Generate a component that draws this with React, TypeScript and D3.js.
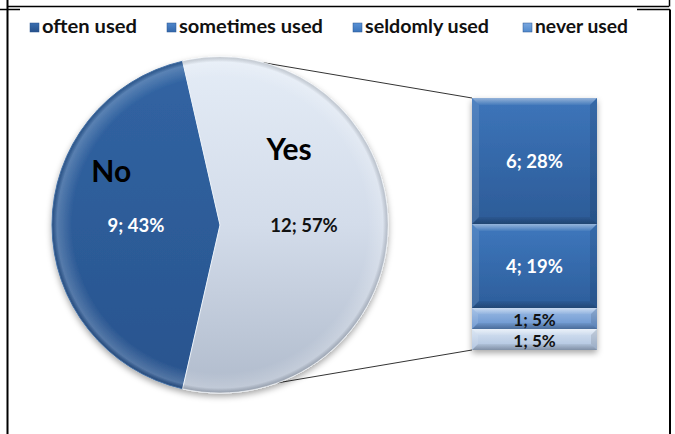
import React from "react";
import * as d3 from "d3";

const pieCategories = ["No", "Yes"];
const pieValues = [9, 12];
const piePercents = [43, 57];

const barCategories = ["often used", "sometimes used", "seldomly used", "never used"];
const barValues = [6, 4, 1, 1];
const barPercents = [28, 19, 5, 5];

const W = 675;
const H = 434;
const FONT = "Lato, 'Open Sans', 'DejaVu Sans', sans-serif";

const barGrad = [
  ["#3d75ba", "#2c5b97"],
  ["#3e77bd", "#2d5e9b"],
  ["#9dbce4", "#6390cd"],
  ["#d8e4f3", "#abc0dd"],
];
const legendGrad = [
  ["#3b6fb0", "#26508a"],
  ["#4f86cb", "#3468ab"],
  ["#5a92d6", "#3a73ba"],
  ["#7aa8e0", "#5189cc"],
];
const legendTextLen = [95, 144, 124, 93];
const legendX = [30, 167, 353, 523];

export default function App() {
  const cx = 220, cy = 225, r = 168;
  const total = d3.sum(pieValues);
  const noSpan = (pieValues[0] / total) * 2 * Math.PI;
  const start = 1.5 * Math.PI - noSpan / 2;
  const pie = d3.pie<number>().sort(null).startAngle(start).endAngle(start + 2 * Math.PI);
  const arcs = pie(pieValues);
  const arc = d3.arc<d3.PieArcDatum<number>>().innerRadius(0).outerRadius(r);

  // bar of pie
  const barX = 472, barW = 125, barTop = 98, barBottom = 350;
  const barTotal = d3.sum(barValues);
  const y = d3.scaleLinear().domain([0, barTotal]).range([barTop, barBottom]);
  let acc = 0;
  const segs = barValues.map((v, i) => {
    const s = { i, v, y0: y(acc), y1: y(acc + v) };
    acc += v;
    return s;
  });

  const pt = (deg: number) => {
    const a = (deg * Math.PI) / 180;
    return [cx + r * Math.sin(a), cy - r * Math.cos(a)];
  };
  const cTop = pt(15);
  const cBot = pt(160);

  const polar = (deg: number, rad: number) => {
    const a = (deg * Math.PI) / 180;
    return [cx + rad * Math.sin(a), cy - rad * Math.cos(a)];
  };
  const catPos = [polar(296, 121), polar(42.6, 102)];

  return (
    <svg width={W} height={H} style={{ position: "absolute", left: 0, top: 0, background: "#fff" }}>
      <defs>
        <linearGradient id="gYes" x1="0" y1="0" x2="0" y2="1">
          <stop offset="0" stopColor="#e4ecf6" />
          <stop offset="0.5" stopColor="#d3dcea" />
          <stop offset="1" stopColor="#b0bbcc" />
        </linearGradient>
        <linearGradient id="gNo" x1="0" y1="0" x2="0" y2="1">
          <stop offset="0" stopColor="#3164a3" />
          <stop offset="1" stopColor="#29548e" />
        </linearGradient>
        <radialGradient id="gEdge" cx="0.5" cy="0.5" r="0.5">
          <stop offset="0.88" stopColor="#fff" stopOpacity="0" />
          <stop offset="0.97" stopColor="#fff" stopOpacity="0.2" />
          <stop offset="1" stopColor="#000" stopOpacity="0.15" />
        </radialGradient>
        {barGrad.map((g, i) => (
          <linearGradient key={i} id={`gb${i}`} x1="0" y1="0" x2="0" y2="1">
            <stop offset="0" stopColor={g[0]} />
            <stop offset="1" stopColor={g[1]} />
          </linearGradient>
        ))}
        {legendGrad.map((g, i) => (
          <linearGradient key={i} id={`gl${i}`} x1="0" y1="0" x2="0" y2="1">
            <stop offset="0" stopColor={g[0]} />
            <stop offset="1" stopColor={g[1]} />
          </linearGradient>
        ))}
        <linearGradient id="bevTop" x1="0" y1="0" x2="0" y2="1">
          <stop offset="0" stopColor="#fff" stopOpacity="0.45" />
          <stop offset="1" stopColor="#fff" stopOpacity="0.05" />
        </linearGradient>
        <linearGradient id="bevBot" x1="0" y1="0" x2="0" y2="1">
          <stop offset="0" stopColor="#000" stopOpacity="0.05" />
          <stop offset="1" stopColor="#000" stopOpacity="0.25" />
        </linearGradient>
        <filter id="shadow" x="-20%" y="-20%" width="140%" height="140%">
          <feDropShadow dx="0" dy="3" stdDeviation="3" floodColor="#000" floodOpacity="0.35" />
        </filter>
      </defs>

      {/* frame */}
      <g stroke="#000" fill="none">
        <line x1={7.5} y1={0} x2={7.5} y2={H} strokeWidth={2} />
        <line x1={7} y1={6.5} x2={669} y2={6.5} strokeWidth={1.5} />
        <line x1={0} y1={9.5} x2={20} y2={9.5} strokeWidth={1.5} />
        <line x1={669.5} y1={0} x2={669.5} y2={6.5} strokeWidth={1.5} />
        <line x1={637} y1={9.5} x2={670} y2={9.5} strokeWidth={1.5} />
        <line x1={670} y1={9.5} x2={670} y2={H} strokeWidth={2} />
      </g>

      {/* legend */}
      {barCategories.map((c, i) => (
        <g key={c}>
          <rect x={legendX[i]} y={23} width={9} height={9} fill={`url(#gl${i})`} stroke="#2a5590" strokeWidth={0.5} />
          <text
            x={legendX[i] + 12}
            y={33}
            fontFamily={FONT}
            fontWeight={700}
            fontSize={18}
            fill="#111"
            textLength={legendTextLen[i]}
            lengthAdjust="spacingAndGlyphs"
          >
            {c}
          </text>
        </g>
      ))}

      {/* connector lines */}
      <line x1={cTop[0]} y1={cTop[1]} x2={barX} y2={barTop} stroke="#333" strokeWidth={1} />
      <line x1={cBot[0]} y1={cBot[1]} x2={barX} y2={barBottom} stroke="#333" strokeWidth={1} />

      {/* pie */}
      <g filter="url(#shadow)">
        <g transform={`translate(${cx},${cy})`}>
          {arcs.map((d, i) => (
            <path key={i} d={arc(d) || ""} fill={i === 0 ? "url(#gNo)" : "url(#gYes)"} stroke={i === 0 ? "#4a78b0" : "#eef3f9"} strokeWidth={1} />
          ))}
          <circle r={r} fill="url(#gEdge)" />
        </g>
      </g>
      <g transform={`translate(${cx},${cy})`}>
        {arcs.map((d, i) => {
          const [lx, ly] = arc.centroid(d);
          return (
            <text
              key={i}
              x={lx}
              y={ly + 6.5}
              textAnchor="middle"
              fontFamily={FONT}
              fontWeight={700}
              fontSize={18.5}
              fill={i === 0 ? "#fff" : "#111"}
            >
              {`${pieValues[i]}; ${piePercents[i]}%`}
            </text>
          );
        })}
      </g>
      {pieCategories.map((c, i) => (
        <text
          key={c}
          x={catPos[i][0]}
          y={catPos[i][1] + 10.5}
          textAnchor="middle"
          fontFamily={FONT}
          fontWeight={700}
          fontSize={30}
          fill="#000"
        >
          {c}
        </text>
      ))}

      {/* bar */}
      <g filter="url(#shadow)">
        {segs.map((s) => {
          const h = s.y1 - s.y0;
          const b = Math.min(7, h / 3.5);
          const x0 = barX, x1 = barX + barW;
          return (
            <g key={s.i}>
              <rect x={x0} y={s.y0} width={barW} height={h} fill={`url(#gb${s.i})`} />
              <path d={`M${x0},${s.y0}L${x1},${s.y0}L${x1 - b},${s.y0 + b}L${x0 + b},${s.y0 + b}Z`} fill="url(#bevTop)" />
              <path d={`M${x0},${s.y1}L${x1},${s.y1}L${x1 - b},${s.y1 - b}L${x0 + b},${s.y1 - b}Z`} fill="url(#bevBot)" />
              <path d={`M${x0},${s.y0}L${x0 + b},${s.y0 + b}L${x0 + b},${s.y1 - b}L${x0},${s.y1}Z`} fill="#fff" opacity={0.1} />
              <path d={`M${x1},${s.y0}L${x1 - b},${s.y0 + b}L${x1 - b},${s.y1 - b}L${x1},${s.y1}Z`} fill="#000" opacity={0.1} />
            </g>
          );
        })}
      </g>
      {segs.map((s) => (
        <text
          key={s.i}
          x={barX + barW / 2}
          y={(s.y0 + s.y1) / 2 + (s.v > 1 ? 6.5 : 7)}
          textAnchor="middle"
          fontFamily={FONT}
          fontWeight={700}
          fontSize={s.v > 1 ? 18.5 : 17}
          fill={s.v > 1 ? "#fff" : "#111"}
        >
          {`${barValues[s.i]}; ${barPercents[s.i]}%`}
        </text>
      ))}
    </svg>
  );
}
